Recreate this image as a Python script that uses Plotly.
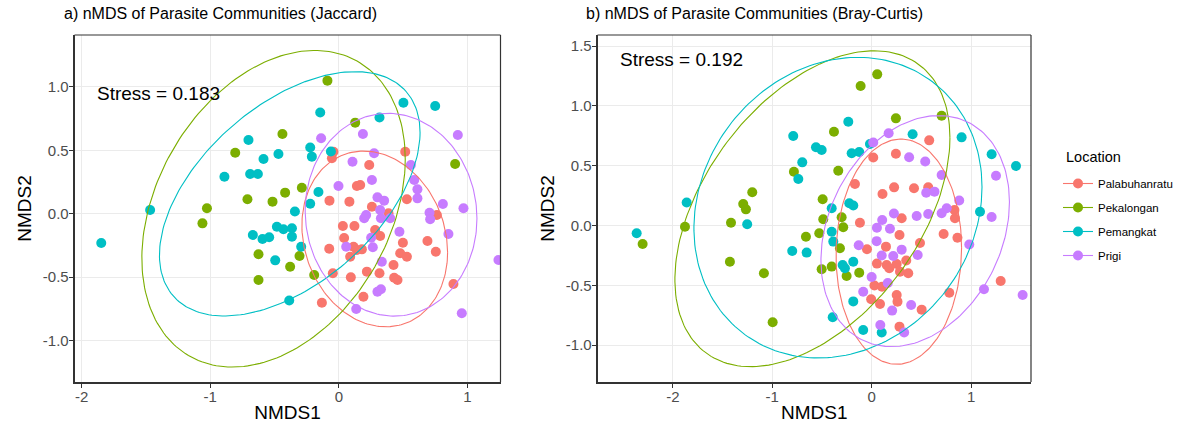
import numpy as np
import plotly.graph_objects as go

locations = ["Palabuhanratu", "Pekalongan", "Pemangkat", "Prigi"]
colors = ["#F8766D", "#7CAE00", "#00BFC4", "#C77CFF"]

# ---------------- Panel a: Jaccard ----------------
jac_pal_x = [-0.042, -0.054, 0.516, 0.236, 0.140, 0.166, -0.073, 0.082, 0.257, 0.386, 0.529, 0.031, 0.121,
             0.282, 0.321, 0.041, -0.075, 0.114, 0.140, 0.179, 0.088, 0.498, 0.477, 0.529, 0.689, 0.754,
             0.425, -0.047, 0.093, 0.218, 0.316, 0.430, 0.456, 0.191, -0.132, 0.891, 0.762]
jac_pal_y = [0.489, 0.437, 0.489, 0.384, 0.218, 0.226, 0.103, 0.095, 0.055, 0.003, 0.114, -0.097, -0.097,
             -0.129, -0.176, -0.192, -0.276, -0.260, -0.286, -0.281, -0.339, -0.229, -0.312, -0.339, -0.215,
             -0.300, -0.405, -0.470, -0.502, -0.457, -0.470, -0.505, -0.523, -0.655, -0.702, -0.554, -0.010]
jac_pek_x = [-0.439, -0.806, -0.711, -0.516, -0.418, -1.026, -1.061, -0.625, -0.625, -0.379, -0.089, 0.127,
             -0.288, -0.306, -0.192, 0.904]
jac_pek_y = [0.629, 0.481, 0.114, 0.095, 0.166, 0.043, -0.076, -0.320, -0.523, -0.418, 1.049, 0.718,
             0.205, -0.334, -0.483, 0.392]
jac_pem_x = [-1.848, -1.468, -0.703, -0.586, -0.470, -0.890, -0.690, -0.630, -0.482, -0.431, -0.365, -0.365,
             -0.669, -0.594, -0.542, -0.495, -0.386, -0.145, 0.316, -0.223, -0.210, -0.062, -0.159, -0.223,
             -0.342, -0.293, 0.502, 0.749]
jac_pem_y = [-0.231, 0.029, 0.581, 0.431, 0.471, 0.292, 0.313, 0.313, -0.103, -0.123, -0.115, -0.181,
             -0.168, -0.200, -0.186, -0.368, -0.685, 0.798, 0.759, 0.522, 0.450, 0.491, 0.171, 0.079,
             0.017, -0.260, 0.875, 0.849]
jac_pri_x = [-0.138, 0.187, 0.925, 0.106, 0.274, 0.560, -0.003, 0.257, 0.586, 0.611, 0.611, 0.300, 0.352,
             0.321, 0.327, 0.399, 0.197, 0.212, 0.809, 0.969, 0.705, 0.710, 0.471, 0.251, 0.057, 0.264,
             0.852, 0.334, 0.300, 0.327, 0.135, 0.956, 1.241]
jac_pri_y = [0.595, 0.629, 0.621, 0.410, 0.476, 0.384, 0.218, 0.266, 0.266, 0.192, 0.121, 0.129, 0.103,
             0.029, -0.036, -0.036, -0.036, -0.010, 0.076, 0.043, 0.008, -0.044, -0.142, -0.189, -0.260,
             -0.265, -0.160, -0.379, -0.615, -0.596, -0.752, -0.785, -0.365]

# ellipse shape per location: centre x, centre y, var x, var y, cov xy
jac_ell_cx = [0.279, -0.508, -0.382, 0.406]
jac_ell_cy = [-0.199, 0.039, 0.157, -0.008]
jac_ell_vx = [0.321, 1.049, 1.027, 0.446]
jac_ell_vy = [0.480, 1.558, 0.928, 0.639]
jac_ell_cv = [-0.06, 0.40, 0.49, -0.02]

# ---------------- Panel b: Bray-Curtis ----------------
bc_pal_x = [0.579, 0.244, 0.016, -0.168, 0.109, 0.226, 0.426, 0.569, -0.118, 0.302, 0.833, 0.838, 0.724,
            0.863, 0.280, 0.144, -0.047, 0.486, 0.053, 0.151, 0.252, 0.348, 0.285, 0.368, 0.177, 0.028,
            0.104, -0.005, 0.084, 0.252, 0.260, 0.503, 0.280, 0.781, 1.298]
bc_pal_y = [0.712, 0.600, 0.569, 0.347, 0.263, 0.319, 0.311, 0.319, 0.023, 0.060, 0.130, 0.060, -0.071,
            -0.103, -0.079, -0.177, -0.199, -0.146, -0.319, -0.330, -0.322, -0.293, -0.386, -0.400, -0.358,
            -0.502, -0.512, -0.617, -0.656, -0.581, -0.637, -0.704, -0.846, -0.562, -0.464]
bc_pek_x = [-0.782, -1.201, -1.292, -1.265, -1.878, -1.415, -2.304, -1.426, -1.084, -0.996, -0.661, 0.056,
            -0.111, 0.244, 0.704, -0.379, -0.336, -0.493, -0.487, -0.302, -0.286, -0.527, -0.319, -0.503,
            -0.402, -0.252, -0.125]
bc_pek_y = [0.450, 0.278, 0.180, 0.135, -0.010, 0.023, -0.155, -0.303, -0.400, -0.809, -0.094, 1.264,
            1.166, 0.896, 0.918, 0.784, 0.458, 0.219, 0.052, 0.069, -0.015, -0.065, -0.191, -0.366,
            -0.344, -0.422, -0.395]
bc_pem_x = [-0.789, -0.698, -0.738, -1.861, -2.364, -1.252, -0.799, -0.654, -0.235, 0.412, 0.905, -0.560,
            -0.503, -0.201, -0.125, -0.017, 1.207, 1.452, -0.402, -0.225, -0.185, -0.402, -0.386, -0.185,
            -0.292, -0.269, -0.185, -0.392, -0.085, 0.101, 1.090]
bc_pem_y = [0.748, 0.528, 0.389, 0.192, -0.065, 0.010, -0.213, -0.227, 0.868, 0.763, 0.737, 0.654,
            0.631, 0.604, 0.615, 0.681, 0.595, 0.497, 0.144, 0.186, 0.167, -0.052, -0.135, -0.303,
            -0.330, -0.358, -0.635, -0.768, -0.874, -0.895, 0.115]
bc_pri_x = [0.171, 0.016, 0.377, 0.539, 0.704, 0.549, 0.632, 1.251, 0.881, 0.755, 0.704, 1.207, 0.453,
            0.569, 0.224, 0.106, 0.053, 0.184, 0.050, -0.130, 0.101, 0.217, 0.302, 0.463, 0.000, 0.162,
            -0.085, 0.206, 0.397, 0.087, 0.327, 1.130, 1.519, 0.982]
bc_pri_y = [0.771, 0.694, 0.570, 0.535, 0.422, 0.274, 0.283, 0.416, 0.209, 0.144, 0.102, 0.071, 0.079,
            0.096, 0.100, 0.046, -0.019, -0.028, -0.131, -0.166, -0.251, -0.255, -0.202, -0.247, -0.431,
            -0.481, -0.554, -0.712, -0.665, -0.832, -0.895, -0.533, -0.581, -0.159]

bc_ell_cx = [0.273, -0.596, -0.339, 0.438]
bc_ell_cy = [-0.219, 0.140, 0.149, -0.047]
bc_ell_vx = [0.399, 1.914, 2.100, 0.899]
bc_ell_vy = [0.887, 1.745, 1.580, 0.934]
bc_ell_cv = [0.02, 0.82, 0.25, 0.23]

stress_labels = ["Stress = 0.183", "Stress = 0.192"]
panel_titles = ["a) nMDS of Parasite Communities (Jaccard)",
                "b) nMDS of Parasite Communities (Bray-Curtis)"]
legend_title = "Location"

FONT = "Liberation Sans, Arial, sans-serif"
W, H = 1184, 434


def ellipse(cx, cy, vx, vy, cv, n=200):
    L = np.linalg.cholesky(np.array([[vx, cv], [cv, vy]]))
    t = np.linspace(0, 2 * np.pi, n)
    pts = L @ np.vstack([np.cos(t), np.sin(t)])
    return cx + pts[0], cy + pts[1]


fig = go.Figure()

panels = [
    ("x", "y", [(jac_pal_x, jac_pal_y), (jac_pek_x, jac_pek_y), (jac_pem_x, jac_pem_y), (jac_pri_x, jac_pri_y)],
     (jac_ell_cx, jac_ell_cy, jac_ell_vx, jac_ell_vy, jac_ell_cv)),
    ("x2", "y2", [(bc_pal_x, bc_pal_y), (bc_pek_x, bc_pek_y), (bc_pem_x, bc_pem_y), (bc_pri_x, bc_pri_y)],
     (bc_ell_cx, bc_ell_cy, bc_ell_vx, bc_ell_vy, bc_ell_cv)),
]

for xa, ya, groups, ell in panels:
    for i, (gx, gy) in enumerate(groups):
        fig.add_trace(go.Scatter(x=gx, y=gy, mode="markers", xaxis=xa, yaxis=ya,
                                 marker=dict(color=colors[i], size=10, line=dict(width=0)),
                                 showlegend=False, hoverinfo="skip"))
    for i in range(4):
        ex, ey = ellipse(ell[0][i], ell[1][i], ell[2][i], ell[3][i], ell[4][i])
        fig.add_trace(go.Scatter(x=ex, y=ey, mode="lines", xaxis=xa, yaxis=ya,
                                 line=dict(color=colors[i], width=1.1),
                                 showlegend=False, hoverinfo="skip"))

# legend entries (point + line key, as in ggplot)
for i, loc in enumerate(locations):
    fig.add_trace(go.Scatter(x=[None], y=[None], mode="lines+markers", name=loc, legendgroup=loc,
                             marker=dict(color=colors[i], size=10),
                             line=dict(color=colors[i], width=1.1), xaxis="x2", yaxis="y2"))

ydom = [(H - 382) / H, (H - 35) / H]
axis_common = dict(showgrid=True, gridcolor="#EBEBEB", gridwidth=1, zeroline=False,
                   showline=True, linecolor="#333333", linewidth=1.6, mirror=False,
                   ticks="outside", ticklen=4, tickcolor="#333333", tickwidth=1.1,
                   tickfont=dict(family=FONT, size=15, color="#4D4D4D"), automargin=False)

fig.update_layout(
    width=W, height=H, margin=dict(l=0, r=0, t=0, b=0),
    paper_bgcolor="white", plot_bgcolor="white",
    font=dict(family=FONT),
    xaxis=dict(domain=[74.5 / W, 500.5 / W], range=[-2.056, 1.257],
               tickvals=[-2, -1, 0, 1], ticktext=["-2", "-1", "0", "1"], ticklabelstandoff=-4,
               title=dict(text="NMDS1", font=dict(size=19, color="black"), standoff=2), anchor="y",
               **axis_common),
    yaxis=dict(domain=ydom, range=[-1.327, 1.409],
               tickvals=[-1, -0.5, 0, 0.5, 1], ticktext=["-1.0", "-0.5", "0.0", "0.5", "1.0"],
               ticklabelstandoff=-3,
               title=dict(text="NMDS2", font=dict(size=19, color="black"), standoff=6), anchor="x",
               **axis_common),
    xaxis2=dict(domain=[597.5 / W, 1031 / W], range=[-2.758, 1.603],
                tickvals=[-2, -1, 0, 1], ticktext=["-2", "-1", "0", "1"], ticklabelstandoff=-4,
                title=dict(text="NMDS1", font=dict(size=19, color="black"), standoff=2), anchor="y2",
                **axis_common),
    yaxis2=dict(domain=ydom, range=[-1.309, 1.593],
                tickvals=[-1, -0.5, 0, 0.5, 1, 1.5], ticktext=["-1.0", "-0.5", "0.0", "0.5", "1.0", "1.5"],
                ticklabelstandoff=-3,
                title=dict(text="NMDS2", font=dict(size=19, color="black"), standoff=6), anchor="x2",
                **axis_common),
    legend=dict(x=1058 / W, y=1 - 169 / H, xanchor="left", yanchor="top",
                font=dict(size=11.5, color="black"), tracegroupgap=5, itemwidth=30,
                bgcolor="rgba(0,0,0,0)"),
)

# top / right frame lines (panel border)
for xa, ya in [("x", "y"), ("x2", "y2")]:
    fig.add_shape(type="line", xref=f"{xa} domain", yref=f"{ya} domain", x0=0, x1=1, y0=1, y1=1,
                  line=dict(color="#333333", width=1.2))
    fig.add_shape(type="line", xref=f"{xa} domain", yref=f"{ya} domain", x0=1, x1=1, y0=0, y1=1,
                  line=dict(color="#333333", width=1.2))

fig.add_annotation(text=stress_labels[0], x=-1.403, y=0.950, xref="x", yref="y", showarrow=False,
                   font=dict(size=19, color="black"))
fig.add_annotation(text=stress_labels[1], x=-1.911, y=1.390, xref="x2", yref="y2", showarrow=False,
                   font=dict(size=19, color="black"))

fig.add_annotation(text=panel_titles[0], x=62 / W, y=1 - 13 / H, xref="paper", yref="paper",
                   xanchor="left", yanchor="middle", showarrow=False, font=dict(size=16, color="black"))
fig.add_annotation(text=panel_titles[1], x=584 / W, y=1 - 13 / H, xref="paper", yref="paper",
                   xanchor="left", yanchor="middle", showarrow=False, font=dict(size=16, color="black"))
fig.add_annotation(text=legend_title, x=1064 / W, y=1 - 157 / H, xref="paper", yref="paper",
                   xanchor="left", yanchor="middle", showarrow=False, font=dict(size=14.5, color="black"))

fig.write_html("out.html", config={"displayModeBar": False},
               post_script="document.body.style.margin='0';")
